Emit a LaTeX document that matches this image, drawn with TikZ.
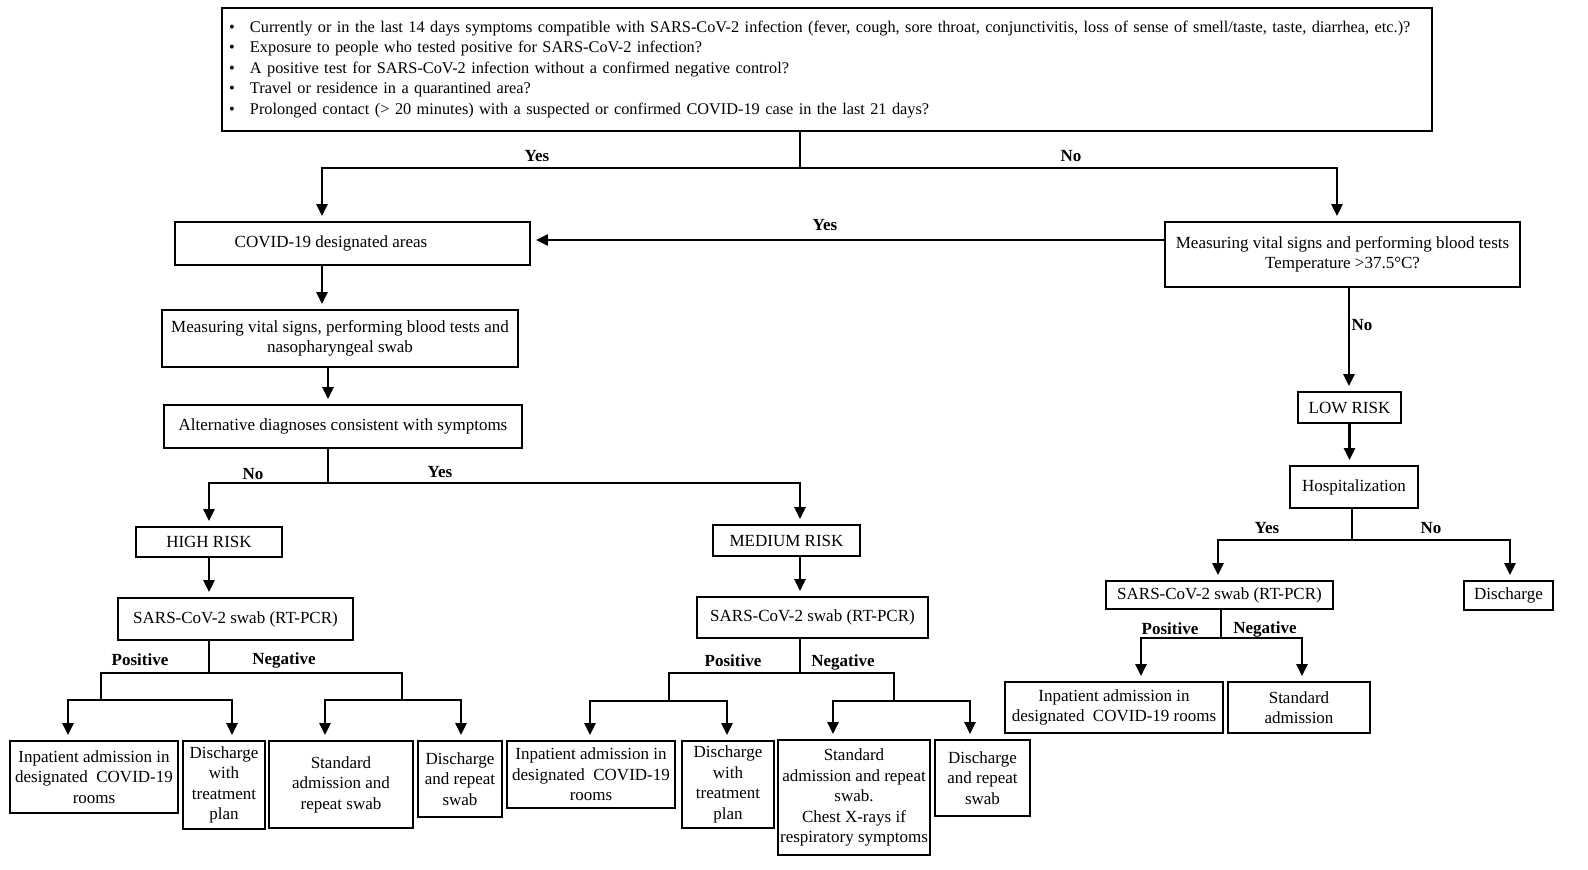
\documentclass[tikz,border=0pt]{standalone}
\usepackage{fontspec}
\setmainfont{Liberation Serif}
\usetikzlibrary{arrows.meta,calc}
\newcommand\fs{\fontsize{17}{20.5}\selectfont}
\newcommand\fst{\fontsize{16.3}{20.5}\selectfont}
\tikzset{
  box/.style={draw, line width=1.8pt, align=center, inner sep=0pt, font=\fs},
  lab/.style={font=\fs\bfseries, inner sep=0pt},
  ln/.style={line width=2.4pt},
  arr/.style={ln, -{Triangle[width=11pt,length=12pt]}, shorten >=5pt},
}
\begin{document}
\begin{tikzpicture}[x=1pt,y=-1pt]
\useasboundingbox (0,0) rectangle (1588,870);
% ---------- nodes ----------
\node[box, font=\fst, minimum width=1210pt, minimum height=123pt, text width=1196pt, align=left, inner xsep=7pt] (top) at (827,69.5)
 {\makebox[21pt][l]{\textbullet}Currently or in the last 14 days symptoms compatible with SARS-CoV-2 infection (fever, cough, sore throat, conjunctivitis, loss of sense of smell/taste, taste, diarrhea, etc.)?\\
  \makebox[21pt][l]{\textbullet}Exposure to people who tested positive for SARS-CoV-2 infection?\\
  \makebox[21pt][l]{\textbullet}A positive test for SARS-CoV-2 infection without a confirmed negative control?\\
  \makebox[21pt][l]{\textbullet}Travel or residence in a quarantined area?\\
  \makebox[21pt][l]{\textbullet}Prolonged contact (> 20 minutes) with a suspected or confirmed COVID-19 case in the last 21 days?};
\node[box, minimum width=355pt, minimum height=43pt] (covid) at (352.5,243.5) {\hspace*{-43pt}COVID-19 designated areas};
\node[box, minimum width=355pt, minimum height=65pt] (rmeas) at (1342.5,254.5) {Measuring vital signs and performing blood tests\\Temperature >37.5°C?};
\node[box, minimum width=356pt, minimum height=57pt] (meas) at (340,338.5) {Measuring vital signs, performing blood tests and\\nasopharyngeal swab};
\node[box, minimum width=358pt, minimum height=43pt] (alt) at (343,426.5) {Alternative diagnoses consistent with symptoms};
\node[box, minimum width=146pt, minimum height=30pt] (high) at (209,542) {HIGH RISK};
\node[box, minimum width=147pt, minimum height=31pt] (med) at (786.5,540.5) {MEDIUM RISK};
\node[box, minimum width=235pt, minimum height=42pt] (sarsL) at (235.5,619) {SARS-CoV-2 swab (RT-PCR)};
\node[box, minimum width=231pt, minimum height=41pt] (sarsM) at (812.5,617.5) {SARS-CoV-2 swab (RT-PCR)};
\node[box, minimum width=103pt, minimum height=31pt] (low) at (1349.5,407.5) {LOW RISK};
\node[box, minimum width=128pt, minimum height=42pt] (hosp) at (1354,487) {Hospitalization};
\node[box, minimum width=227pt, minimum height=28pt] (sarsR) at (1219.5,595) {SARS-CoV-2 swab (RT-PCR)};
\node[box, minimum width=89pt, minimum height=29pt] (dis) at (1508.5,595.5) {Discharge};
\node[box, minimum width=218pt, minimum height=51pt] (inR) at (1114,707.5) {Inpatient admission in\\designated\ \ COVID-19 rooms};
\node[box, minimum width=142pt, minimum height=51pt] (stR) at (1299,707.5) {Standard\\admission};
\node[box, minimum width=168pt, minimum height=72pt] (L1) at (94,777) {Inpatient admission in\\designated\ \ COVID-19\\rooms};
\node[box, minimum width=82pt, minimum height=88pt] (L2) at (224,785) {Discharge\\with\\treatment\\plan};
\node[box, minimum width=144pt, minimum height=87pt] (L3) at (341,784.5) {Standard\\admission and\\repeat swab};
\node[box, minimum width=84pt, minimum height=76pt] (L4) at (460,779) {Discharge\\and repeat\\swab};
\node[box, minimum width=168pt, minimum height=67pt] (M1) at (591,774.5) {Inpatient admission in\\designated\ \ COVID-19\\rooms};
\node[box, minimum width=92pt, minimum height=87pt] (M2) at (728,784.5) {Discharge\\with\\treatment\\plan};
\node[box, minimum width=152pt, minimum height=115pt] (M3) at (854,797.5) {Standard\\admission and repeat\\swab.\\Chest X-rays if\\respiratory symptoms};
\node[box, minimum width=95pt, minimum height=76pt] (M4) at (982.5,778) {Discharge\\and repeat\\swab};
% ---------- junctions ----------
\coordinate (j1) at (800,168);
\coordinate (j2) at (328,483);
\coordinate (j3) at (209,673);
\coordinate (p1) at (101,700);
\coordinate (p2) at (402,700);
\coordinate (j4) at (800,673);
\coordinate (p3) at (669,701);
\coordinate (p4) at (894,701);
\coordinate (j5) at (1352,540);
\coordinate (j6) at (1221,638);
% ---------- connectors ----------
\draw[ln] (top.south -| j1) -- (j1);
\draw[arr] (j1) -| ([xshift=-30.5pt]covid.north);
\draw[arr] (j1) -| ([xshift=-5.5pt]rmeas.north);
\draw[arr] ([yshift=14.5pt]rmeas.west) coordinate (ys) -- (covid.east |- ys);
\draw[arr] ([xshift=-30.5pt]covid.south) coordinate (c1) -- (c1 |- meas.north);
\draw[arr] ([xshift=-12pt]meas.south) coordinate (c2) -- (c2 |- alt.north);
\draw[ln] (alt.south -| j2) -- (j2);
\draw[arr] (j2) -| (high.north);
\draw[arr] (j2) -| ([xshift=13.5pt]med.north);
\draw[arr] (high.south) coordinate (c3) -- (c3 |- sarsL.north);
\draw[arr] ([xshift=13.5pt]med.south) coordinate (c4) -- (c4 |- sarsM.north);
% left results
\draw[ln] (sarsL.south -| j3) -- (j3);
\draw[arr] (j3) -| (p1) -| ([xshift=-26pt]L1.north);
\draw[arr] (p1) -| ([xshift=8pt]L2.north);
\draw[arr] (j3) -| (p2) -| ([xshift=-16pt]L3.north);
\draw[arr] (p2) -| ([xshift=1pt]L4.north);
% middle results
\draw[ln] (sarsM.south -| j4) -- (j4);
\draw[arr] (j4) -| (p3) -| ([xshift=-1pt]M1.north);
\draw[arr] (p3) -| ([xshift=-1pt]M2.north);
\draw[arr] (j4) -| (p4) -| ([xshift=-21pt]M3.north);
\draw[arr] (p4) -| ([xshift=-12.5pt]M4.north);
% right branch
\draw[arr] ([xshift=6.5pt]rmeas.south) coordinate (c5) -- (c5 |- low.north);
\draw[arr] (low.south) coordinate (c6) -- (c6 |- hosp.north);
\draw[ln] (hosp.south -| j5) -- (j5);
\draw[arr] (j5) -| ([xshift=-1.5pt]sarsR.north);
\draw[arr] (j5) -| ([xshift=1.5pt]dis.north);
\draw[ln] (sarsR.south -| j6) -- (j6);
\draw[arr] (j6) -| ([xshift=27pt]inR.north);
\draw[arr] (j6) -| ([xshift=3pt]stR.north);
% ---------- labels ----------
\node[lab] (l1) at (537,156) {Yes};
\node[lab] (l2) at (1071,156) {No};
\node[lab] (l3) at (825,225) {Yes};
\node[lab] (l4) at (1362,325) {No};
\node[lab] (l5) at (253,474) {No};
\node[lab] (l6) at (440,472) {Yes};
\node[lab] (l7) at (140,660) {Positive};
\node[lab] (l8) at (284,660) {Negative};
\node[lab] (l9) at (733,661) {Positive};
\node[lab] (l10) at (843,662) {Negative};
\node[lab] (l11) at (1267,528) {Yes};
\node[lab] (l12) at (1431,528) {No};
\node[lab] (l13) at (1170,629) {Positive};
\node[lab] (l14) at (1265,629) {Negative};
\end{tikzpicture}
\end{document}
